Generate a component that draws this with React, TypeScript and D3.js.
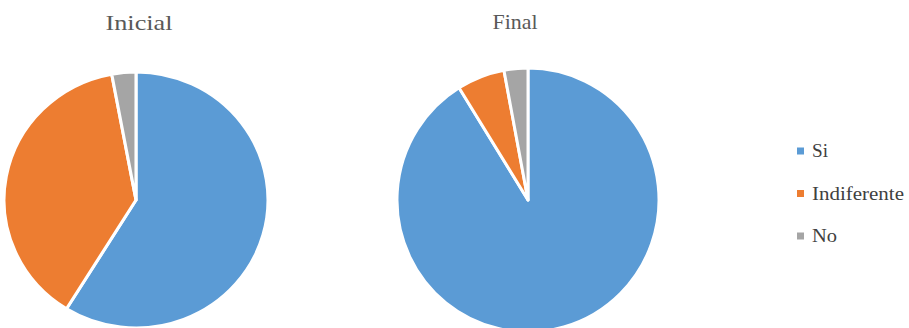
import React from "react";
import * as d3 from "d3";

const categories = ["Si", "Indiferente", "No"];
const inicialValues = [20, 13, 1];
const finalValues = [31, 2, 1];
const chartTitles = ["Inicial", "Final"];
const colors = ["#5B9BD5", "#ED7D31", "#A5A5A5"];

const W = 909;
const H = 328;
const SERIF = '"Liberation Serif", "DejaVu Serif", "Times New Roman", Times, serif';

function Pie({ values, cx, cy, rx, ry, title, tx, ty, tlen }: any) {
  const pie = d3.pie<number>().sort(null).value((d) => d)(values);
  const arc = d3.arc<d3.PieArcDatum<number>>().innerRadius(0).outerRadius(ry);
  return (
    <g>
      <g transform={`translate(${cx},${cy}) scale(${rx / ry},1)`}>
        {pie.map((p, i) => (
          <path
            key={i}
            d={arc(p) || ""}
            fill={colors[i]}
            stroke="#ffffff"
            strokeWidth={3}
            strokeLinejoin="round"
          />
        ))}
      </g>
      <text
        x={tx}
        y={ty}
        textAnchor="middle"
        fontFamily={SERIF}
        fontSize={21}
        fill="#595959"
        textLength={tlen}
        lengthAdjust="spacingAndGlyphs"
      >
        {title}
      </text>
    </g>
  );
}

export default function App() {
  const legendY = d3.scalePoint<string>().domain(categories).range([151, 236]);
  return (
    <div style={{ position: "absolute", left: 0, top: 0, width: W, height: H, fontFamily: SERIF }}>
      <svg width={W} height={H} style={{ display: "block", background: "#ffffff" }}>
        <rect x={0} y={0} width={W} height={H} fill="#ffffff" />
        <Pie values={inicialValues} cx={136} cy={200} rx={132} ry={128} title={chartTitles[0]} tx={139} ty={30} tlen={67} />
        <Pie values={finalValues} cx={528} cy={200} rx={131} ry={132} title={chartTitles[1]} tx={515} ty={29} tlen={45} />
        {categories.map((c, i) => (
          <g key={c} transform={`translate(797,${legendY(c)})`}>
            <rect x={0} y={-3.5} width={7} height={7} fill={colors[i]} />
            <text
              x={15}
              y={6}
              fontFamily={SERIF}
              fontSize={18}
              fill="#404040"
              textLength={c === "Indiferente" ? 92 : c === "Si" ? 16 : 25}
              lengthAdjust="spacingAndGlyphs"
            >
              {c}
            </text>
          </g>
        ))}
      </svg>
    </div>
  );
}
